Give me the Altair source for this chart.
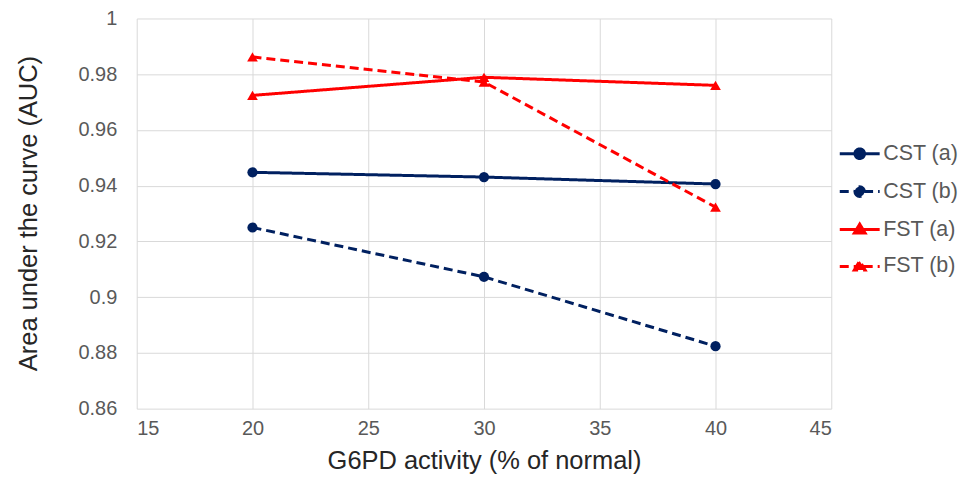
import altair as alt
import pandas as pd

# ---- data ----
activity = [20, 30, 40]
series_names = ["CST (a)", "CST (b)", "FST (a)", "FST (b)"]
cst_a = [0.9448, 0.9431, 0.9406]
cst_b = [0.9250, 0.9073, 0.8824]
fst_a = [0.9724, 0.9789, 0.9760]
fst_b = [0.9862, 0.9772, 0.9323]
x_ticks = [15, 20, 25, 30, 35, 40, 45]
y_ticks = [0.86, 0.88, 0.90, 0.92, 0.94, 0.96, 0.98, 1.0]

# ---- styles ----
navy = "#002060"
red = "#FF0000"
series_colors = [navy, navy, red, red]
series_dash = [[1, 0], [9, 5], [1, 0], [9, 5]]
series_marker = ["circle", "circle", "triangle-up", "triangle-up"]
marker_size = [105, 105, 115, 115]
circle_path = "M-1,0H-0.22M0.22,0H1M-0.24,0A0.24,0.24,0,1,0,0.24,0A0.24,0.24,0,1,0,-0.24,0Z"
tri_path = "M-1,0H-0.2M0.2,0H1M-0.27,0.18L0,-0.27L0.27,0.18Z"
legend_paths = [circle_path, circle_path, tri_path, tri_path]

rows = []
for name, vals in zip(series_names, [cst_a, cst_b, fst_a, fst_b]):
    for xv, v in zip(activity, vals):
        rows.append({"series": name, "activity": xv, "auc": v})
df = pd.DataFrame(rows)

FONT = "Liberation Sans"

x_enc = alt.X(
    "activity:Q",
    scale=alt.Scale(domain=[15, 45], nice=False, zero=False),
    axis=alt.Axis(
        values=x_ticks,
        title="G6PD activity (% of normal)",
        labelPadding=10,
        titleX=348,
        titleY=52,
        titleBaseline="middle",
        titleAlign="center",
    ),
)
y_enc = alt.Y(
    "auc:Q",
    scale=alt.Scale(domain=[0.86, 1.0], nice=False, zero=False),
    axis=alt.Axis(
        values=y_ticks,
        format="~g",
        title="Area under the curve (AUC)",
        labelPadding=20,
        titleX=-108,
        titleY=195,
        titleAngle=-90,
        titleBaseline="middle",
        titleAlign="center",
    ),
)

base = alt.Chart(df)
layers = []
for name, col, dash, mk, ms in zip(series_names, series_colors, series_dash,
                                   series_marker, marker_size):
    sub = base.transform_filter(alt.datum.series == name)
    layers.append(
        sub.mark_line(color=col, strokeWidth=3, strokeDash=dash).encode(x=x_enc, y=y_enc)
    )
    layers.append(
        sub.mark_point(shape=mk, filled=True, color=col, size=ms, opacity=1).encode(x=x_enc, y=y_enc)
    )

dom = series_names
legend_layer = base.transform_filter("false").mark_point(
    filled=True, opacity=1, strokeWidth=3
).encode(
    x=x_enc,
    y=y_enc,
    fill=alt.Fill("series:N", scale=alt.Scale(domain=dom, range=series_colors), title=None),
    stroke=alt.Stroke("series:N", scale=alt.Scale(domain=dom, range=series_colors), title=None),
    shape=alt.Shape("series:N", scale=alt.Scale(domain=dom, range=legend_paths), title=None),
    strokeDash=alt.StrokeDash("series:N", scale=alt.Scale(domain=dom, range=series_dash), title=None),
)
layers.append(legend_layer)

chart = alt.layer(*layers).properties(
    width=696,
    height=391,
    autosize=alt.AutoSizeParams(type="none"),
    padding={"left": 129, "top": 10, "right": 130, "bottom": 70},
).configure_view(
    stroke=None
).configure_axis(
    domain=False,
    ticks=False,
    grid=True,
    gridColor="#d9d9d9",
    gridWidth=1,
    labelFont=FONT,
    labelFontSize=20,
    labelColor="#595959",
    titleFont=FONT,
    titleFontSize=25.5,
    titleFontWeight="normal",
    titleColor="#262626",
).configure_legend(
    orient="none",
    legendX=703,
    legendY=114,
    padding=0,
    symbolSize=1600,
    symbolStrokeWidth=3,
    labelFont=FONT,
    labelFontSize=21.5,
    labelColor="#595959",
    labelOffset=2,
    rowPadding=5,
    labelLimit=200,
)

chart.save("out.html", embed_options={"renderer": "svg", "actions": False})
